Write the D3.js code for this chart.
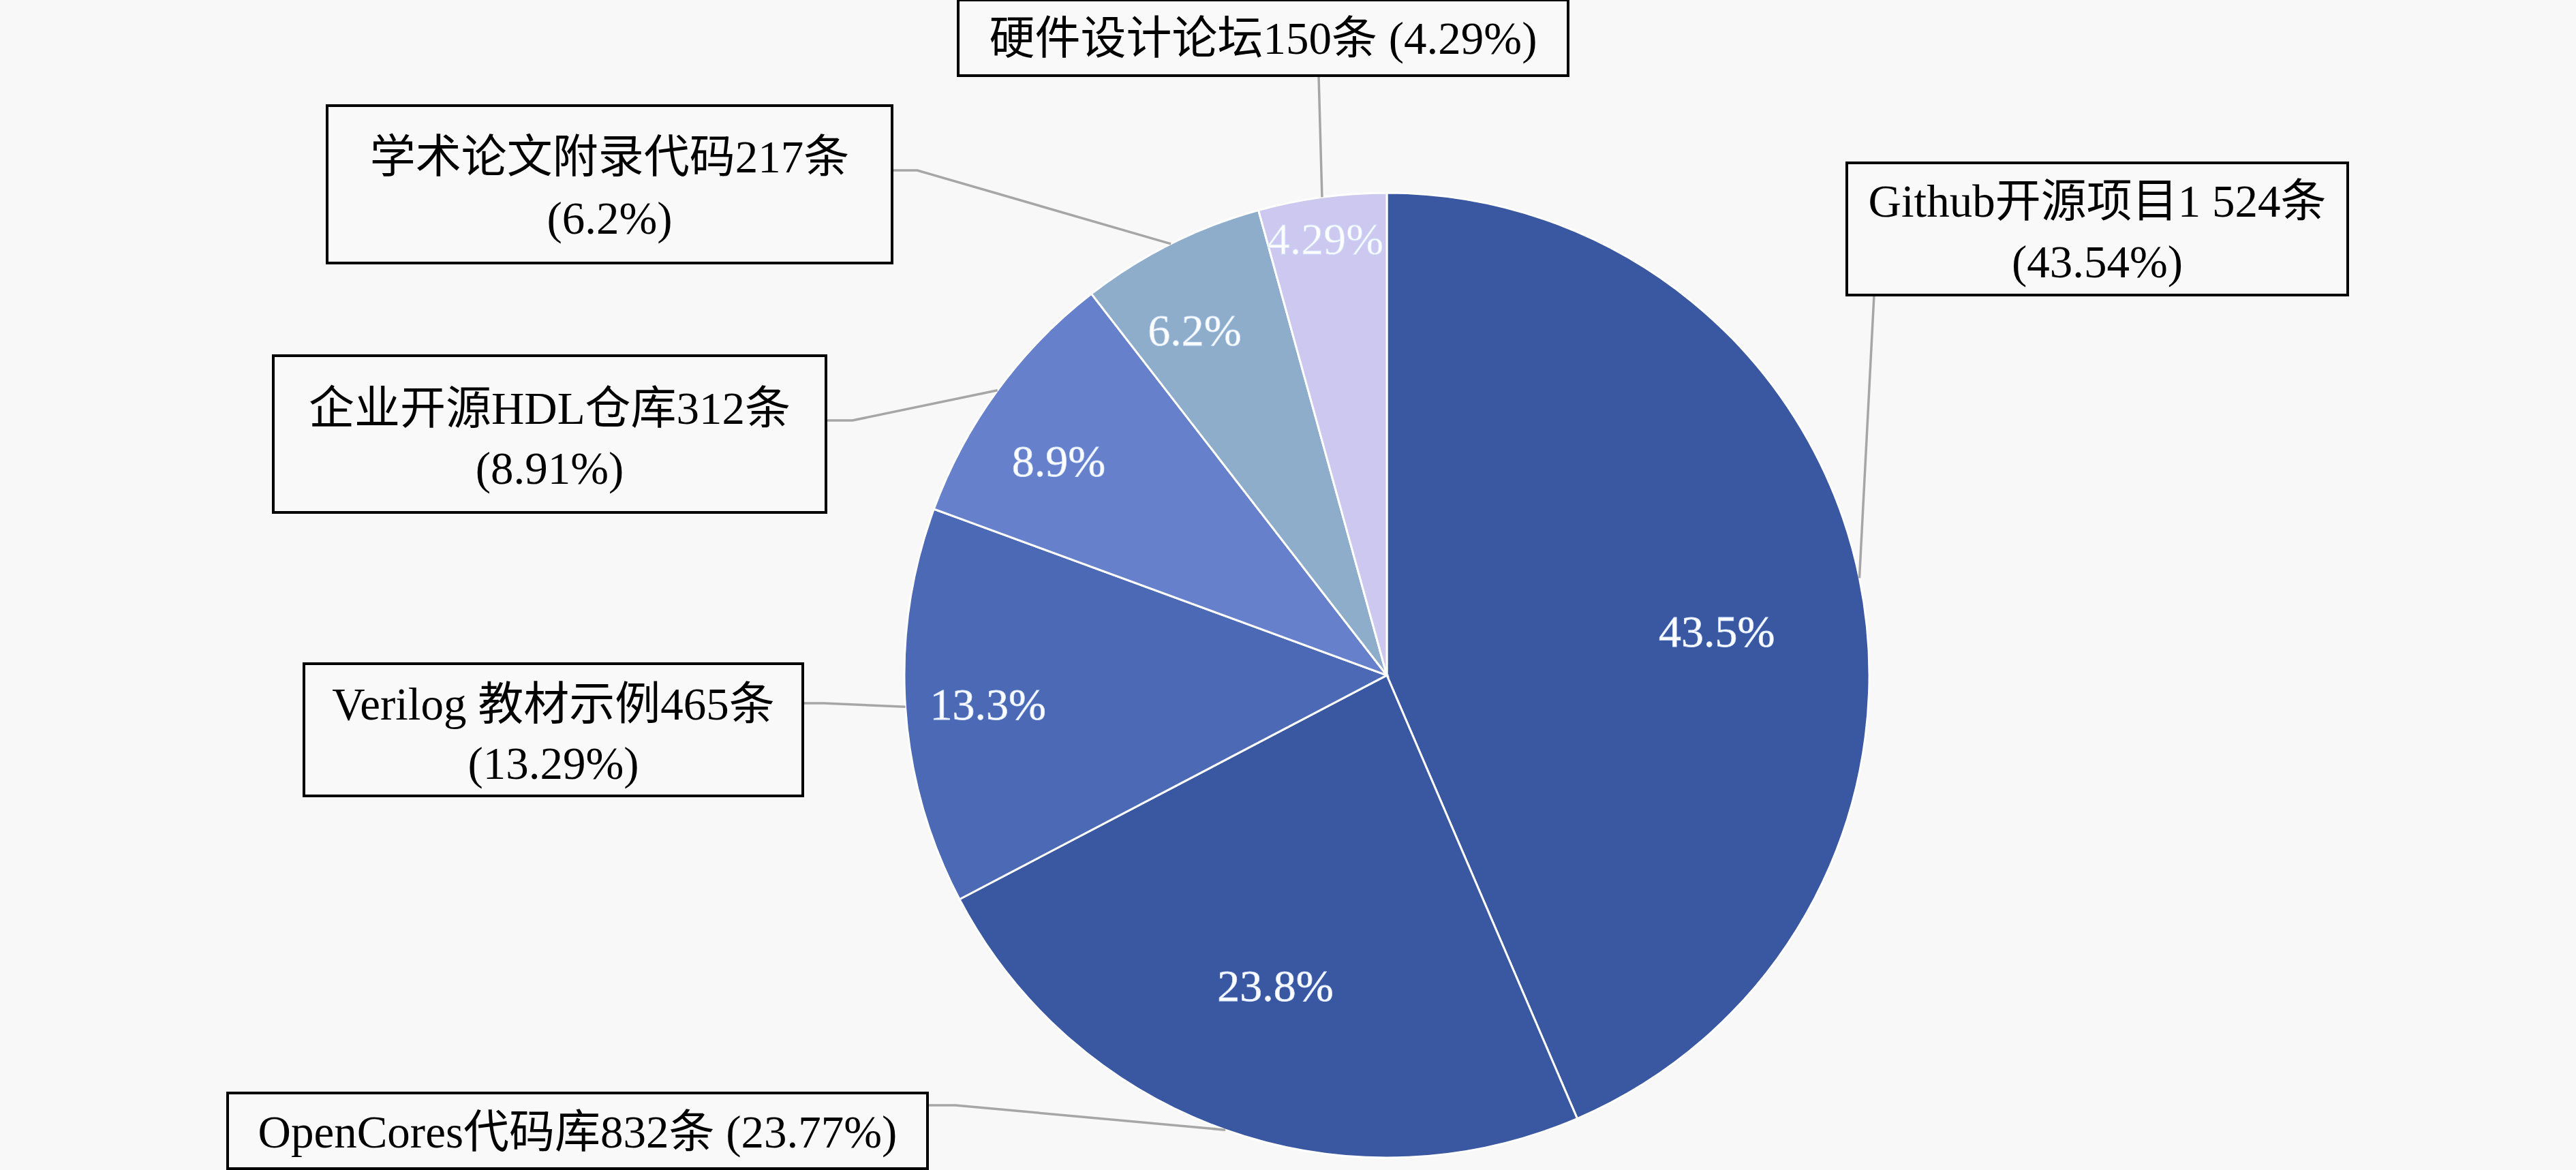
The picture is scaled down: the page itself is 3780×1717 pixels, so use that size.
<!DOCTYPE html>
<html>
<head>
<meta charset="utf-8">
<script src="https://cdn.jsdelivr.net/npm/d3@7/dist/d3.min.js"></script>
<style>
  html, body { margin: 0; padding: 0; background: #f8f8f8; }
  svg { display: block; }
</style>
</head>
<body>
<svg id="chart" width="3780" height="1717"></svg>
<script>
// ---- data ----
const categories = ["Github开源项目", "OpenCores代码库", "Verilog 教材示例", "企业开源HDL仓库", "学术论文附录代码", "硬件设计论坛"];
const counts = [1524, 832, 465, 312, 217, 150];
const countLabels = ["1 524", "832", "465", "312", "217", "150"];
const pctLabels = ["43.54%", "23.77%", "13.29%", "8.91%", "6.2%", "4.29%"];
const innerLabels = ["43.5%", "23.8%", "13.3%", "8.9%", "6.2%", "4.29%"];
const colors = ["#3a57a2", "#3a57a2", "#4b69b5", "#6680cb", "#8dadcb", "#cdc8f0"];

// ---- layout (not data) ----
const W = 3780, H = 1717;
const cx = 2035, cy = 991, R = 708;
const innerLabelR = [0.69, 0.684, 0.829, 0.812, 0.819, 0.913];
const innerLabelAngleOffsetDeg = [4.1, 0.2, -0.4, -3.1, -2.5, -0.3];
const boxes = [
  { x: 2710, y: 239, w: 735, h: 194, twoLines: true, lineY: [294, 383], lead: [[2750, 433]] },
  { x: 334, y: 1604, w: 1027, h: 111, twoLines: false, lineY: [1660], lead: [[1361, 1622], [1402, 1622]] },
  { x: 446, y: 974, w: 732, h: 194, twoLines: true, lineY: [1032, 1119], lead: [[1178, 1032], [1209, 1032]] },
  { x: 401, y: 522, w: 811, h: 230, twoLines: true, lineY: [598, 686], lead: [[1212, 617], [1251, 617]] },
  { x: 480, y: 155, w: 829, h: 231, twoLines: true, lineY: [229, 319], lead: [[1309, 250], [1346, 250]] },
  { x: 1406, y: 0, w: 895, h: 111, twoLines: false, lineY: [55], lead: [[1935, 111]] }
];
const fontFamily = "'Liberation Serif', 'Times New Roman', 'Noto Sans CJK SC', serif";
const boxFont = 67;
const innerFont = 66;

const svg = d3.select("#chart");
svg.append("rect").attr("width", W).attr("height", H).attr("fill", "#f8f8f8");

const data = categories.map((c, i) => ({ cat: c, value: counts[i], i }));
const pie = d3.pie().value(d => d.value).sort(null);
const arcs = pie(data);
const arc = d3.arc().innerRadius(0).outerRadius(R);

const g = svg.append("g").attr("transform", `translate(${cx},${cy})`);

// leader lines (drawn beneath pie)
const edgeArc = d3.arc().innerRadius(R).outerRadius(R);
const leaders = svg.append("g");
arcs.forEach((a, i) => {
  const [ex, ey] = edgeArc.centroid(a);
  const pts = boxes[i].lead.concat([[cx + ex, cy + ey]]);
  leaders.append("path")
    .attr("d", d3.line()(pts))
    .attr("fill", "none")
    .attr("stroke", "#a6a6a6")
    .attr("stroke-width", 3.5);
});

g.selectAll("path.slice")
  .data(arcs)
  .join("path")
  .attr("class", "slice")
  .attr("d", arc)
  .attr("fill", d => colors[d.data.i])
  .attr("stroke", "#ffffff")
  .attr("stroke-width", 3);

// inner labels
g.selectAll("text.inner")
  .data(arcs)
  .join("text")
  .attr("class", "inner")
  .attr("transform", d => {
    const r = R * innerLabelR[d.data.i];
    const a = (d.startAngle + d.endAngle) / 2 + innerLabelAngleOffsetDeg[d.data.i] * Math.PI / 180;
    const x = r * Math.sin(a), y = -r * Math.cos(a);
    return `translate(${x},${y})`;
  })
  .attr("text-anchor", "middle")
  .attr("dy", "0.34em")
  .attr("font-family", fontFamily)
  .attr("font-size", innerFont)
  .attr("fill", "#ffffff")
  .attr("stroke", "#cfe0ff")
  .attr("stroke-width", 0.8)
  .text(d => innerLabels[d.data.i]);

// label boxes
const boxG = svg.append("g");
boxes.forEach((b, i) => {
  boxG.append("rect")
    .attr("x", b.x).attr("y", b.y).attr("width", b.w).attr("height", b.h)
    .attr("fill", "#f9f9f9")
    .attr("stroke", "#000000")
    .attr("stroke-width", 4);
  const line1 = categories[i] + countLabels[i] + "条";
  const line2 = "(" + pctLabels[i] + ")";
  const lines = b.twoLines ? [line1, line2] : [line1 + " " + line2];
  lines.forEach((t, k) => {
    boxG.append("text")
      .attr("x", b.x + b.w / 2)
      .attr("y", b.lineY[k])
      .attr("dy", "0.36em")
      .attr("text-anchor", "middle")
      .attr("font-family", fontFamily)
      .attr("font-size", boxFont)
      .attr("fill", "#000000")
      .text(t);
  });
});
</script>
</body>
</html>
